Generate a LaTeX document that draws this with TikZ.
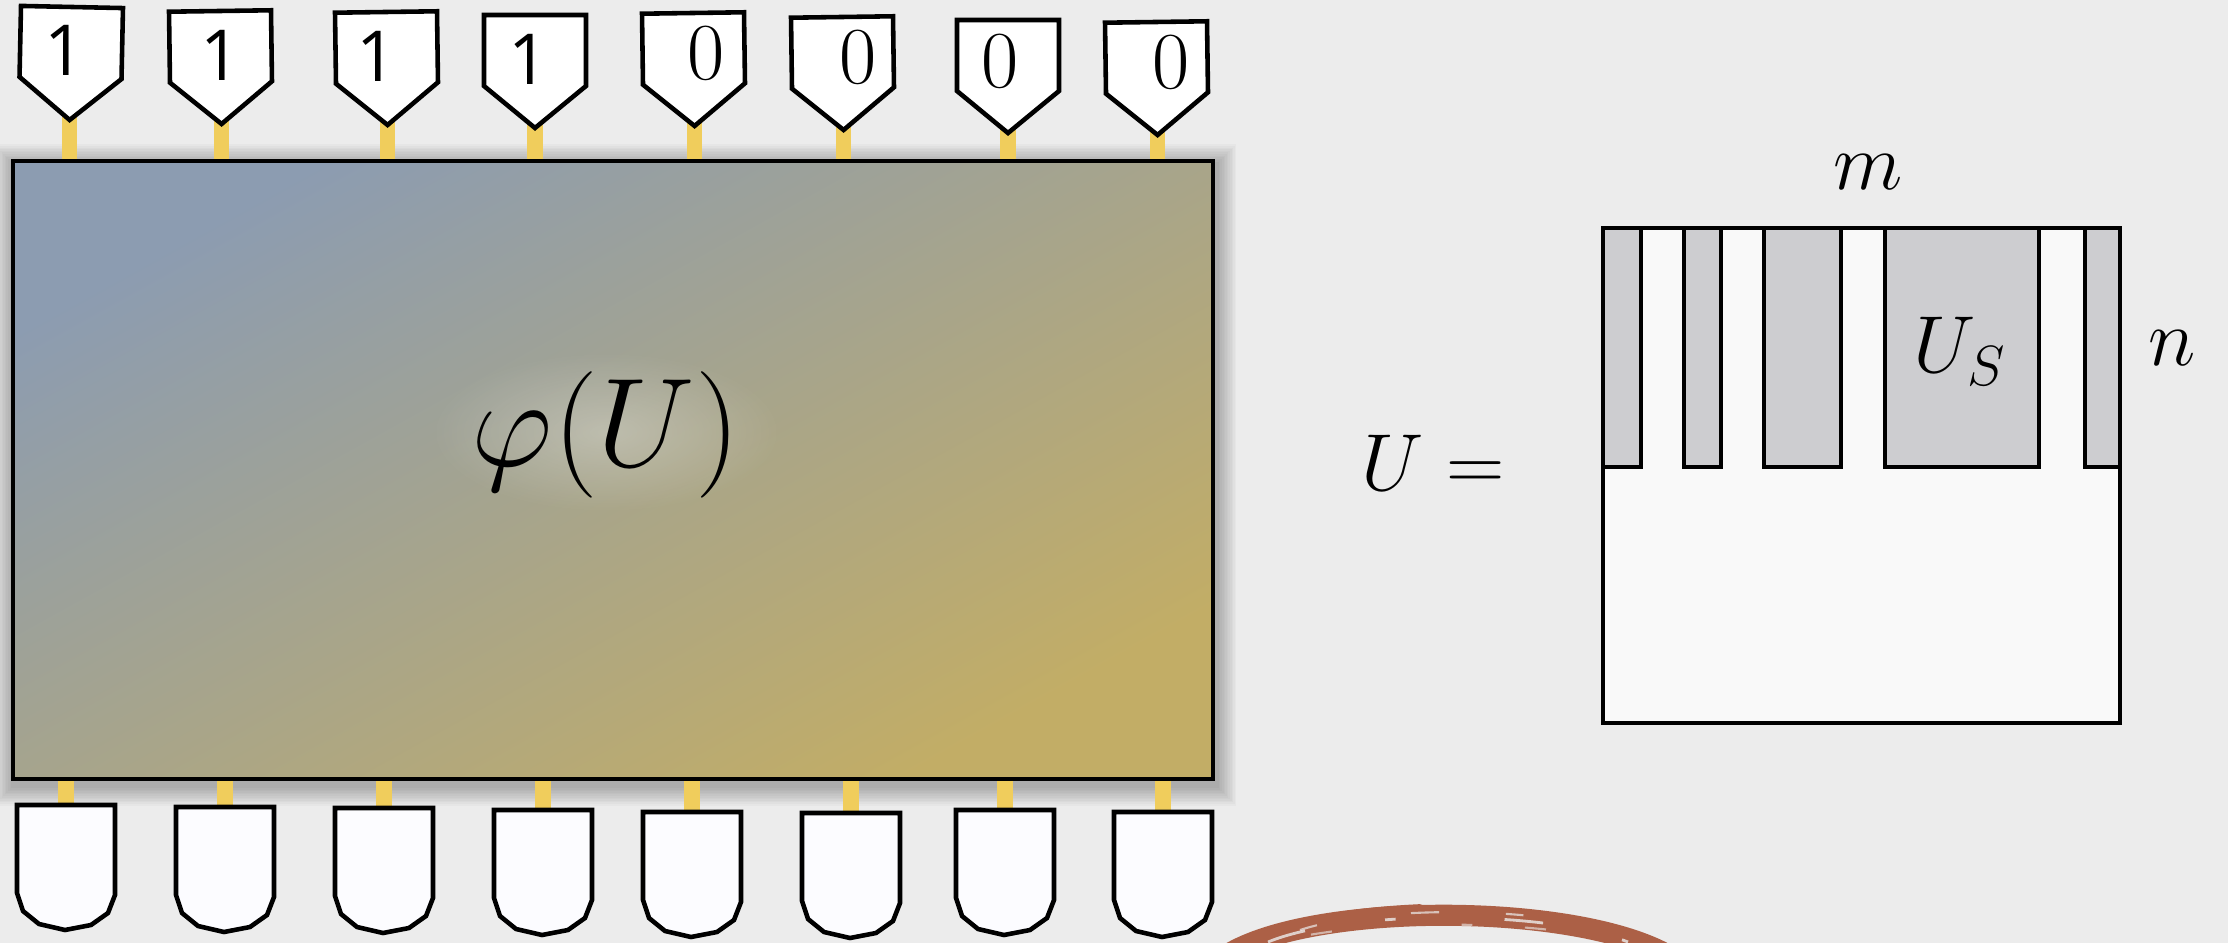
\RequirePackage{fix-cm}
\documentclass[tikz,border=0pt]{standalone}
\usepackage{fontspec}
\newfontfamily\onefont{Open Sans}
\usetikzlibrary{calc,fadings}
\pgfdeclarelayer{back}
\pgfdeclarelayer{mid}
\pgfsetlayers{back,mid,main}
\definecolor{bgc}{RGB}{236,236,236}
\definecolor{wirec}{RGB}{240,205,92}
\definecolor{gradA}{RGB}{140,156,177}
\definecolor{gradB}{RGB}{194,173,102}
\definecolor{mgray}{RGB}{205,205,208}
\definecolor{mwhite}{RGB}{249,249,249}
\definecolor{measfill}{RGB}{252,252,255}
\definecolor{brushc}{RGB}{172,96,70}
\tikzfading[name=glowfade, inner color=transparent!0, outer color=transparent!100]
\tikzset{
  ink/.style={draw=black, line width=1.3pt, line join=miter},
  pent/.style={ink, fill=white},
  meas/.style={ink, fill=measfill},
  wire/.style={draw=wirec, line width=4.3pt},
  digone/.style={font=\onefont\fontsize{20}{24}\selectfont, inner sep=0pt},
  digzero/.style={font=\fontsize{23}{27}\selectfont, inner sep=0pt},
  lbl/.style={font=\fontsize{23}{28}\selectfont, inner sep=0pt},
  phistyle/.style={font=\fontsize{36}{40}\selectfont, inner sep=0pt, anchor=base},
  brushline/.style={draw=brushc, line cap=round},
}
\begin{document}
\begin{tikzpicture}[x=0.01cm,y=-0.01cm]
\useasboundingbox (0,0) rectangle (2228,943);

% main box
\node[ink, minimum width=11.99cm, minimum height=6.18cm, inner sep=0pt,
      top color=gradA, bottom color=gradB, shading angle=29] (box) at (613,470) {};

\begin{pgfonlayer}{back}
  \fill[bgc] (0,0) rectangle (2228,943);
  % brush stroke
  \draw[brushline, line width=6pt] (1232,952) .. controls (1320,903) and (1565,903) .. (1662,952);
  \draw[brushline, line width=2.2pt] (1226,956) .. controls (1300,920) and (1340,912) .. (1420,908);
  \draw[bgc, line width=0.8pt, opacity=0.8, dash pattern=on 11pt off 23pt on 3pt off 31pt] (1268,942) .. controls (1345,910) and (1545,909) .. (1628,942);
  \draw[bgc, line width=0.6pt, opacity=0.7, dash pattern=on 5pt off 27pt on 8pt off 19pt] (1300,930) .. controls (1370,907) and (1520,906) .. (1600,928);
  \draw[bgc, line width=0.6pt, opacity=0.6, dash pattern=on 3pt off 15pt on 6pt off 37pt] (1250,951) .. controls (1330,916) and (1560,916) .. (1645,950);
  % shadow
  \foreach \k in {1,...,12}
    \fill[black, opacity=0.025] ($(box.north west)+(-\k*1.6+2,-\k*1.6+5)$) rectangle ($(box.south east)+(\k*1.6+2,\k*1.6+5)$);
\end{pgfonlayer}

% phi(U) with soft glow
\coordinate (phic) at (606,466);
\fill[white, opacity=0.28, path fading=glowfade] (606,432) ellipse [x radius=1.75cm, y radius=0.8cm];
\node[phistyle] (phi) at (phic) {$\varphi(U)$};

% top pentagons
\foreach \i/\cx/\ty/\r/\dx in {1/72/7/-1.2/-6, 2/220/11/0.8/0, 3/386/12/0.8/-10, 4/535/15/0/-6}{
  \begin{scope}[shift={(\cx,\ty)}, rotate=\r]
    \draw[pent] (-51,0) -- (51,0) -- (51,71) -- (0,113) -- (-51,71) -- cycle;
    \coordinate (t\i) at (0,110);
    \node[digone] (d\i) at (\dx,44) {1};
  \end{scope}
}
\foreach \i/\cx/\ty/\r/\dx in {5/693/13/0.8/12, 6/842/17/0.8/15, 7/1008/20/0/-8, 8/1156/22/0.8/14}{
  \begin{scope}[shift={(\cx,\ty)}, rotate=\r]
    \draw[pent] (-51,0) -- (51,0) -- (51,71) -- (0,113) -- (-51,71) -- cycle;
    \coordinate (t\i) at (0,110);
    \node[digzero] (d\i) at (\dx,41) {0};
  \end{scope}
}

% bottom measurement shapes
\foreach \i/\cx/\ty in {1/66/805, 2/225/807, 3/384/808, 4/543/810, 5/692/812, 6/851/813, 7/1005/810, 8/1163/812}{
  \draw[meas] (\cx-49,\ty) -- ++(98,0) -- ++(0,90) -- ++(-7,18) -- ++(-17,12) -- ++(-26,5) -- ++(-26,-6) -- ++(-16,-13) -- ++(-6,-18) -- cycle;
  \coordinate (b\i) at (\cx,\ty+3);
}

\begin{pgfonlayer}{mid}
  \foreach \i in {1,...,8} {
    \draw[wire] (t\i) -- (t\i |- box.north);
    \draw[wire] (b\i) -- (b\i |- box.south);
  }
\end{pgfonlayer}

% right matrix
\fill[mwhite] (1603,228) rectangle (2120,723);
\foreach \xa/\xb in {1603/1641, 1684/1721, 1764/1841, 1885/2039, 2085/2120}
  \filldraw[ink, fill=mgray] (\xa,228) rectangle (\xb,467);
\draw[ink] (1603,228) rectangle (2120,723);

\node[lbl, anchor=base] (Ueq) at (1433,490) {$U =$};
\node[lbl] (mlab) at (1868,172) {$m$};
\node[lbl] (nlab) at (2172,348) {$n$};
\node[lbl, anchor=base] (US) at (1960,373) {$U_S$};
\end{tikzpicture}
\end{document}
